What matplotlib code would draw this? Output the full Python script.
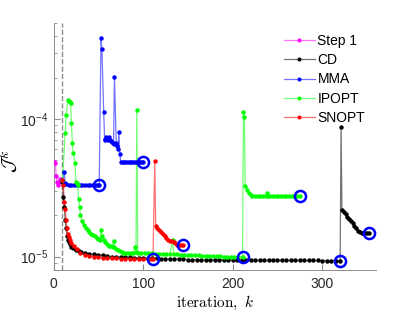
import matplotlib
matplotlib.use("Agg")
import matplotlib.pyplot as plt
from matplotlib.lines import Line2D
from matplotlib.legend_handler import HandlerTuple

# ---------------- data ----------------
step1_k = [0, 1, 2, 3, 4, 5, 6, 7, 8, 9, 10]
step1_J = [4.9e-5, 4.9e-5, 4.8e-5, 3.85e-5, 3.5e-5, 3.3e-5, 3.5e-5, 3.65e-5, 3.6e-5, 3.6e-5, 3.6e-5]

cd_k = [10, 11, 12, 13, 14, 15, 16, 17, 18, 20, 22, 25, 28, 31, 35, 40, 45, 50, 55, 60,
        65, 70, 75, 80, 85, 90, 95, 100, 105, 110, 115, 120, 125, 130, 135, 140, 145,
        150, 155, 160, 165, 170, 175, 180, 185, 190, 195, 200, 205, 210, 215, 220, 225,
        230, 235, 240, 245, 250, 255, 260, 265, 270, 275, 280, 285, 290, 295, 300, 305,
        310, 315, 320, 321, 322, 324, 326, 328, 330, 332, 334, 336, 338, 340, 342, 344,
        346, 348, 350, 352]
cd_J = [3.5e-5, 2.7e-5, 2.3e-5, 1.85e-5, 1.6e-5, 1.42e-5, 1.33e-5, 1.27e-5, 1.23e-5,
        1.18e-5, 1.15e-5, 1.12e-5, 1.10e-5, 1.08e-5, 1.06e-5, 1.05e-5, 1.04e-5, 1.03e-5,
        1.02e-5, 1.01e-5, 1.0e-5, 9.95e-6, 9.92e-6, 9.9e-6, 9.85e-6, 9.8e-6, 9.78e-6,
        9.75e-6, 9.72e-6, 9.7e-6, 9.68e-6, 9.65e-6, 9.62e-6, 9.6e-6, 9.58e-6, 9.56e-6,
        9.55e-6, 9.5e-6, 9.49e-6, 9.48e-6, 9.47e-6, 9.47e-6, 9.46e-6, 9.45e-6, 9.45e-6,
        9.44e-6, 9.43e-6, 9.43e-6, 9.42e-6, 9.42e-6, 9.41e-6, 9.41e-6, 9.4e-6, 9.4e-6,
        9.4e-6, 9.39e-6, 9.39e-6, 9.38e-6, 9.38e-6, 9.38e-6, 9.37e-6, 9.37e-6, 9.37e-6,
        9.36e-6, 9.36e-6, 9.36e-6, 9.36e-6, 9.35e-6, 9.35e-6, 9.35e-6, 9.35e-6, 9.35e-6,
        8.8e-5, 2.19e-5, 2.12e-5, 2.05e-5, 1.95e-5, 1.88e-5, 1.82e-5, 1.76e-5, 1.68e-5,
        1.6e-5, 1.54e-5, 1.51e-5, 1.49e-5, 1.49e-5, 1.48e-5, 1.48e-5, 1.48e-5]

mma_k = [10, 12, 13, 14, 17, 20, 23, 26, 29, 32, 35, 38, 41, 44, 47, 50, 51,
         53, 54, 56, 57, 58, 59, 60, 61, 62, 63, 64, 65, 66, 67, 68, 70, 71, 72, 73, 74,
         75, 77, 79, 81, 83, 85, 87, 89, 91, 93, 95, 97, 99, 100]
mma_J = [3.6e-5, 4.15e-5, 3.45e-5, 3.35e-5, 3.33e-5, 3.33e-5, 3.33e-5, 3.33e-5, 3.33e-5,
         3.33e-5, 3.33e-5, 3.33e-5, 3.33e-5, 3.33e-5, 3.33e-5, 3.33e-5, 3.33e-5,
         3.9e-4, 3.2e-4, 1.12e-4, 7.2e-5, 7.0e-5, 7.4e-5, 7.1e-5, 7.0e-5, 7.4e-5, 7.0e-5,
         6.9e-5, 6.8e-5, 6.7e-5, 6.6e-5, 2.03e-4, 6.7e-5, 6.4e-5, 6.0e-5, 8.1e-5, 5.6e-5,
         4.85e-5, 4.85e-5, 4.85e-5, 4.85e-5, 4.85e-5, 4.85e-5, 4.85e-5, 4.85e-5, 4.85e-5,
         4.85e-5, 4.85e-5, 4.85e-5, 4.85e-5, 4.85e-5]

ipopt_k = [10, 13, 14, 16, 17, 18, 19, 20, 21, 22, 24, 25, 26, 27, 28, 29, 30, 32, 34, 36,
           38, 40, 42, 44, 46, 48, 50, 52, 53, 54, 56, 58, 60, 62, 64, 66, 67, 68, 70, 72,
           74, 76, 78, 80, 83, 86, 89, 91, 92, 93, 94, 98, 102, 106, 110, 114, 118, 122,
           126, 130, 133, 134, 138, 142, 146, 150, 154, 158, 162, 166, 170, 174, 178, 182,
           186, 190, 194, 198, 202, 206, 211, 212, 213, 214, 216, 218, 220, 222, 225, 228,
           231, 234, 237, 238, 239, 242, 245, 248, 251, 254, 257, 260, 263, 266, 269, 272,
           275]
ipopt_J = [3.6e-5, 7.9e-5, 1.07e-4, 1.37e-4, 1.35e-4, 1.32e-4, 1.3e-4, 9.3e-5, 6.7e-5,
           5.7e-5, 4.8e-5, 3.5e-5, 3.4e-5, 3.3e-5, 2.6e-5, 2.3e-5, 2.0e-5, 1.8e-5, 1.7e-5,
           1.6e-5, 1.55e-5, 1.5e-5, 1.47e-5, 1.44e-5, 1.4e-5, 1.37e-5, 1.34e-5, 1.33e-5,
           1.55e-5, 1.4e-5, 1.32e-5, 1.27e-5, 1.23e-5, 1.2e-5, 1.19e-5, 1.18e-5, 1.3e-5,
           1.17e-5, 1.14e-5, 1.11e-5, 1.09e-5, 1.08e-5, 1.07e-5, 1.07e-5, 1.07e-5, 1.07e-5,
           1.07e-5, 1.18e-5, 1.08e-5, 1.17e-4, 1.07e-5, 1.065e-5, 1.06e-5, 1.06e-5, 1.055e-5,
           1.05e-5, 1.05e-5, 1.045e-5, 1.04e-5, 1.04e-5, 1.33e-5, 1.04e-5, 1.035e-5, 1.03e-5,
           1.03e-5, 1.025e-5, 1.02e-5, 1.02e-5, 1.02e-5, 1.015e-5, 1.01e-5, 1.01e-5, 1.01e-5,
           1.005e-5, 1.005e-5, 1.0e-5, 1.0e-5, 1.0e-5, 1.0e-5, 1.0e-5, 1.0e-5, 1.13e-4,
           1.04e-4, 3.24e-5, 3.06e-5, 2.9e-5, 2.8e-5, 2.76e-5, 2.74e-5, 2.74e-5, 2.74e-5,
           2.74e-5, 2.74e-5, 2.9e-5, 2.75e-5, 2.74e-5, 2.74e-5, 2.74e-5, 2.74e-5, 2.74e-5,
           2.74e-5, 2.74e-5, 2.74e-5, 2.74e-5, 2.74e-5, 2.74e-5, 2.74e-5]

snopt_k = [10, 11, 12, 13, 14, 15, 16, 17, 18, 20, 23, 26, 30, 35, 40, 45, 50, 55, 60, 65,
           70, 75, 80, 85, 90, 95, 100, 105, 109, 111, 113, 114, 116, 118, 120, 122, 124,
           126, 128, 130, 132, 134, 136, 138, 140, 142, 145]
snopt_J = [3.6e-5, 3.3e-5, 2.5e-5, 2.2e-5, 1.85e-5, 1.6e-5, 1.45e-5, 1.38e-5, 1.32e-5,
           1.26e-5, 1.19e-5, 1.13e-5, 1.07e-5, 1.03e-5, 1.01e-5, 9.95e-6, 9.85e-6, 9.8e-6,
           9.75e-6, 9.7e-6, 9.68e-6, 9.66e-6, 9.64e-6, 9.62e-6, 9.6e-6, 9.58e-6, 9.57e-6,
           9.56e-6, 9.55e-6, 9.55e-6, 4.96e-5, 1.68e-5, 1.62e-5, 1.57e-5, 1.5e-5, 1.45e-5,
           1.4e-5, 1.36e-5, 1.33e-5, 1.3e-5, 1.29e-5, 1.28e-5, 1.25e-5, 1.22e-5, 1.22e-5,
           1.22e-5, 1.22e-5]

# end-of-run markers (blue circles)
end_k = [51, 100, 111, 145, 211, 275, 320, 352]
end_J = [3.33e-5, 4.85e-5, 9.55e-6, 1.22e-5, 1.0e-5, 2.74e-5, 9.35e-6, 1.48e-5]

restart_k = 10
labels = ["Step 1", "CD", "MMA", "IPOPT", "SNOPT"]
colors = ["#ff00ff", "#000000", "#0000ff", "#00ff00", "#ff0000"]

# ---------------- figure ----------------
plt.rcParams["font.family"] = ["Liberation Sans", "DejaVu Sans"]
fig = plt.figure(figsize=(4.15, 3.12), dpi=100)
ax = fig.add_axes([0.129, 0.135, 0.777, 0.792])

series = [(step1_k, step1_J), (cd_k, cd_J), (mma_k, mma_J), (ipopt_k, ipopt_J), (snopt_k, snopt_J)]
handles = []
ms = 3.2
for (k, J), c in zip(series, colors):
    ax.plot(k, J, '-', color=c, lw=0.9, alpha=0.55, zorder=2)
    ax.plot(k, J, 'o', color=c, ms=ms, mew=0, zorder=3)
    h1 = Line2D([], [], color=c, lw=0.9, alpha=0.55)
    h2 = Line2D([], [], color=c, marker='o', ms=2.9, mew=0, ls='none')
    handles.append((h1, h2))

ax.plot(end_k, end_J, 'o', mfc='none', mec='#0000ff', ms=8, mew=1.8, zorder=5)
ax.axvline(restart_k, color='0.55', ls='--', lw=1.0, zorder=1)

ax.set_yscale('log')
ax.set_xlim(0, 360)
ax.set_ylim(8e-6, 5e-4)
ax.set_xticks([0, 100, 200, 300])
ax.set_yticks([1e-5, 1e-4])
ax.spines['top'].set_visible(False)
ax.spines['right'].set_visible(False)
for s in ['left', 'bottom']:
    ax.spines[s].set_color('0.55')
    ax.spines[s].set_linewidth(0.7)
ax.tick_params(which='both', direction='in', colors='0.55', labelcolor='0.15', labelsize=10)
ax.tick_params(which='major', length=4)
ax.tick_params(which='minor', length=2.5)
ax.tick_params(axis='x', pad=5)

ax.set_xlabel(r"$\mathrm{iteration},\ k$", fontsize=11, math_fontfamily='cm')
ax.xaxis.set_label_coords(0.5, -0.095)
ax.set_ylabel(r"$\mathcal{J}^k$", fontsize=14, math_fontfamily='cm')
ax.yaxis.set_label_coords(-0.1, 0.44)

leg = ax.legend(handles, labels, handler_map={tuple: HandlerTuple(ndivide=1)},
                loc='upper left', bbox_to_anchor=(0.715, 0.955), frameon=False,
                fontsize=10, handlelength=2.2, handletextpad=0.2, labelspacing=0.38,
                borderaxespad=0, borderpad=0)

fig.savefig("out.png", dpi=100)
